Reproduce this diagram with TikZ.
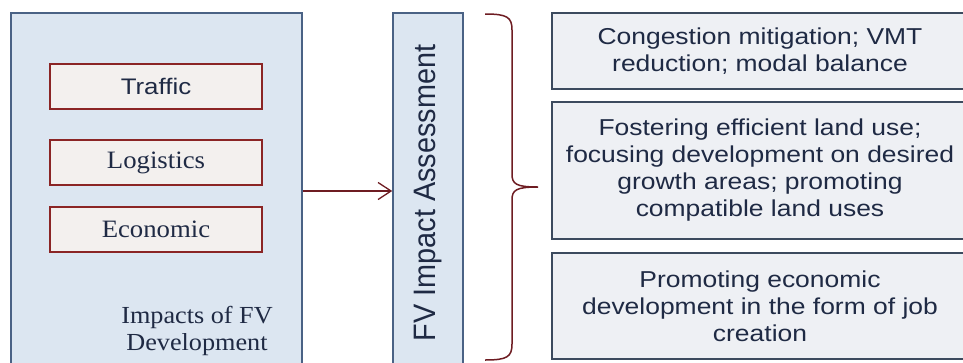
\documentclass[tikz,border=0pt]{standalone}
\usepackage{fontspec}
\usetikzlibrary{arrows.meta}
\setmainfont{Liberation Serif}[FakeStretch=1.07]
\newfontfamily\widesans{Liberation Sans}[FakeStretch=1.15]
\newfontfamily\narrowsans{Liberation Sans}[FakeStretch=0.93]

\definecolor{panelfill}{HTML}{DCE6F1}
\definecolor{panelline}{HTML}{4A6285}
\definecolor{itemfill}{HTML}{F3F0EE}
\definecolor{itemline}{HTML}{8B2525}
\definecolor{goalfill}{HTML}{EEF0F4}
\definecolor{goalline}{HTML}{3C4A5E}
\definecolor{ink}{HTML}{1F2A44}
\definecolor{linkred}{HTML}{6E1C22}

\tikzset{
  panel/.style={draw=panelline, fill=panelfill, line width=1.5pt, inner sep=0pt},
  itembox/.style={draw=itemline, fill=itemfill, line width=1.3pt,
    minimum width=212pt, minimum height=45pt, inner sep=0pt, text=ink},
  goalbox/.style={draw=goalline, fill=goalfill, line width=1.5pt,
    minimum width=416pt, inner sep=0pt, text=ink, align=center,
    font=\widesans\fontsize{23}{27}\selectfont},
  link/.style={draw=linkred, line width=1.3pt},
  bracket/.style={draw=linkred, line width=1.5pt}
}

\begin{document}
\begin{tikzpicture}[x=1pt, y=-1pt]
  \clip (0,0) rectangle (963,362);
  \fill[white] (0,0) rectangle (963,362);

  % left panel with the three impact areas
  \node[panel, minimum width=291pt, minimum height=360pt] (impacts) at (156.5,193) {};
  \node[itembox, font=\widesans\fontsize{22.5}{26}\selectfont] (traffic) at (156,86.5) {Traffic};
  \node[itembox, font=\fontsize{25}{28}\selectfont] (logistics) at (156,162.5) {Logistics};
  \node[itembox, font=\fontsize{25}{28}\selectfont] (economic) at (156,229.5) {Economic};
  \node[text=ink, align=center, inner sep=0pt, font=\fontsize{24.5}{27.5}\selectfont]
    (impactslabel) at (197,331) {Impacts of FV\\Development};

  % assessment column
  \node[panel, rotate=90, minimum width=360pt, minimum height=70pt, text=ink,
    font=\narrowsans\fontsize{31}{36}\selectfont] (assess) at (428,193) {FV Impact Assessment};

  % connector from the impacts panel to the assessment column
  \coordinate (arrowlevel) at (0,191);
  \draw[link, -{Straight Barb[length=13pt, width=17pt, line width=1.3pt]}]
    (impacts.east |- arrowlevel) -- (assess.north |- arrowlevel);

  % curly brace grouping the goals
  \coordinate (bracetop) at (485,14);
  \coordinate (bracetip) at (538,187);
  \coordinate (bracebottom) at (485,360);
  \draw[bracket] (bracetop) .. controls (507,14) and (512,17) .. (512,30)
    -- (512,174) .. controls (512,184) and (516,187) .. (bracetip)
    .. controls (516,187) and (512,190) .. (512,200)
    -- (512,344) .. controls (512,357) and (507,360) .. (bracebottom);

  % goal statements
  \node[goalbox, minimum height=76pt] (goal1) at (760,51)
    {Congestion mitigation; VMT\\reduction; modal balance};
  \node[goalbox, minimum height=137pt] (goal2) at (760,170.5)
    {Fostering efficient land use;\\focusing development on desired\\growth areas; promoting\\compatible land uses};
  \node[goalbox, minimum height=106pt] (goal3) at (760,306)
    {Promoting economic\\development in the form of job\\creation};
\end{tikzpicture}
\end{document}
